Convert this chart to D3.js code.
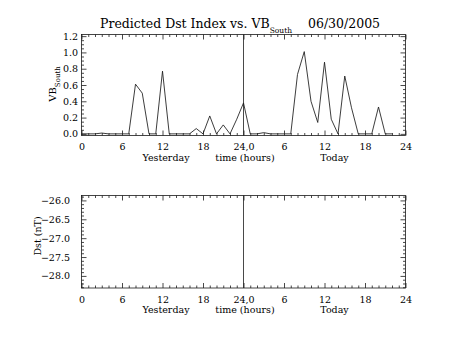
<!DOCTYPE html>
<html>
<head>
<meta charset="utf-8">
<script src="https://cdn.jsdelivr.net/npm/d3@7"></script>
<style>
  html, body { margin: 0; padding: 0; background: #fff; }
  svg { display: block; }
  text { font-family: "DejaVu Serif", serif; fill: #000; }
</style>
</head>
<body>
<svg id="chart" width="453" height="340"></svg>
<script>
// Hourly VB_South over yesterday (0-23) and today (24-47)
const hours = d3.range(0, 47);
const vbSouth = [
  0, 0, 0, 0.01, 0, 0, 0, 0, 0.61, 0.50, 0, 0,
  0.77, 0, 0, 0, 0, 0.065, 0, 0.22, 0, 0.11, 0, 0.18,
  0.38, 0, 0, 0.015, 0, 0, 0, 0, 0.73, 1.01, 0.40, 0.14,
  0.88, 0.18, 0, 0.71, 0.32, 0, 0, 0, 0.33, 0, 0
];
// Predicted Dst: no values available for this interval
const dstValues = [];

const xTickValues = [0, 6, 12, 18, 24, 30, 36, 42, 48];
const xTickLabels = ["0", "6", "12", "18", "24,0", "6", "12", "18", "24"];
const vbTicks = [0.0, 0.2, 0.4, 0.6, 0.8, 1.0, 1.2];
const dstTicks = [-28.0, -27.5, -27.0, -26.5, -26.0];

const titleMain = "Predicted Dst Index vs. VB";
const titleSub = "South";
const titleDate = "06/30/2005";

const svg = d3.select("#chart");
svg.append("rect").attr("width", 453).attr("height", 340).attr("fill", "#fff");

const x = d3.scaleLinear().domain([0, 48]).range([81.5, 405.5]);
const yTop = d3.scaleLinear().domain([-0.02, 1.22]).range([135.5, 34.5]);
const yBot = d3.scaleLinear().domain([-28.32, -25.87]).range([288, 195.5]);

const xMinor = d3.range(0, 49).filter(h => h % 6 !== 0);
const ink = "#1a1a1a";

function frame(y, majorY, minorY, labelFmt, labelRight) {
  const [y0, y1] = y.range();
  const g = svg.append("g");
  const x0 = x.range()[0], x1 = x.range()[1];

  // bottom axis with labels, ticks pointing up
  const bx = g.append("g").attr("transform", `translate(0,${y0})`)
    .call(d3.axisBottom(x).tickValues(xTickValues).tickSizeInner(-5).tickSizeOuter(0)
      .tickPadding(8).tickFormat((d, i) => xTickLabels[i]));
  bx.selectAll("text").attr("font-size", 9.5);
  g.append("g").attr("transform", `translate(0,${y0})`)
    .call(d3.axisBottom(x).tickValues(xMinor).tickSizeInner(-2.5).tickSizeOuter(0).tickFormat(""));

  // top axis ticks
  g.append("g").attr("transform", `translate(0,${y1})`)
    .call(d3.axisTop(x).tickValues(xTickValues).tickSizeInner(-5).tickSizeOuter(0).tickFormat(""));
  g.append("g").attr("transform", `translate(0,${y1})`)
    .call(d3.axisTop(x).tickValues(xMinor).tickSizeInner(-2.5).tickSizeOuter(0).tickFormat(""));

  // left axis with labels
  const ly = g.append("g").attr("transform", `translate(${x0},0)`)
    .call(d3.axisLeft(y).tickValues(majorY).tickSizeInner(-5).tickSizeOuter(0)
      .tickPadding(x0 - labelRight).tickFormat(labelFmt));
  ly.selectAll("text").attr("font-size", 9.5);
  g.append("g").attr("transform", `translate(${x0},0)`)
    .call(d3.axisLeft(y).tickValues(minorY).tickSizeInner(-2.5).tickSizeOuter(0).tickFormat(""));

  // right axis ticks
  g.append("g").attr("transform", `translate(${x1},0)`)
    .call(d3.axisRight(y).tickValues(majorY).tickSizeInner(-5).tickSizeOuter(0).tickFormat(""));
  g.append("g").attr("transform", `translate(${x1},0)`)
    .call(d3.axisRight(y).tickValues(minorY).tickSizeInner(-2.5).tickSizeOuter(0).tickFormat(""));

  g.selectAll(".domain").remove();
  g.selectAll(".tick line").attr("stroke", ink).attr("stroke-width", 0.8);

  g.append("rect").attr("x", x0).attr("y", y1).attr("width", x1 - x0).attr("height", y0 - y1)
    .attr("fill", "none").attr("stroke", ink).attr("stroke-width", 0.8);

  // midnight divider
  g.append("line").attr("x1", x(24)).attr("x2", x(24)).attr("y1", y1).attr("y2", y0)
    .attr("stroke", ink).attr("stroke-width", 0.8);

  // axis captions
  const capY = y0 + 25;
  g.append("text").attr("x", 166).attr("y", capY).attr("text-anchor", "middle")
    .attr("font-size", 9.5).text("Yesterday");
  g.append("text").attr("x", 245).attr("y", capY).attr("text-anchor", "middle")
    .attr("font-size", 9.5).text("time (hours)");
  g.append("text").attr("x", 334.5).attr("y", capY).attr("text-anchor", "middle")
    .attr("font-size", 9.5).text("Today");
  return g;
}

const vbMinor = d3.range(0, 25).map(i => +(i * 0.05).toFixed(2)).filter(v => Math.round(v * 100) % 20 !== 0);
const dstMinor = d3.range(-28.3, -25.85, 0.1).map(v => +v.toFixed(1)).filter(v => Math.round(v * 10) % 5 !== 0);

const gTop = frame(yTop, vbTicks, vbMinor, d3.format(".1f"), 78);
const gBot = frame(yBot, dstTicks, dstMinor, d => d3.format(".1f")(d).replace("-", "\u2212"), 70);

// VB_South line
gTop.append("path")
  .datum(hours.map((h, i) => [h, vbSouth[i]]))
  .attr("fill", "none").attr("stroke", ink).attr("stroke-width", 0.85)
  .attr("d", d3.line().x(d => x(d[0])).y(d => yTop(d[1])));

// Dst line (empty when no values)
gBot.append("path")
  .datum(dstValues)
  .attr("fill", "none").attr("stroke", ink).attr("stroke-width", 0.85)
  .attr("d", d3.line().x(d => x(d[0])).y(d => yBot(d[1])));

// y-axis titles
const vbLabel = svg.append("text").attr("transform", "translate(56,84) rotate(-90)")
  .attr("text-anchor", "middle").attr("font-size", 10);
vbLabel.append("tspan").text("VB");
vbLabel.append("tspan").attr("dy", 4).attr("font-size", 7).text("South");

svg.append("text").attr("transform", "translate(41,236) rotate(-90)")
  .attr("text-anchor", "middle").attr("font-size", 9.5).text("Dst (nT)");

// title
const title = svg.append("text").attr("x", 100).attr("y", 28).attr("font-size", 12.5);
title.append("tspan").text(titleMain);
title.append("tspan").attr("dy", 5).attr("font-size", 7.5).text(titleSub);
title.append("tspan").attr("x", 308).attr("y", 28).text(titleDate);
</script>
</body>
</html>
